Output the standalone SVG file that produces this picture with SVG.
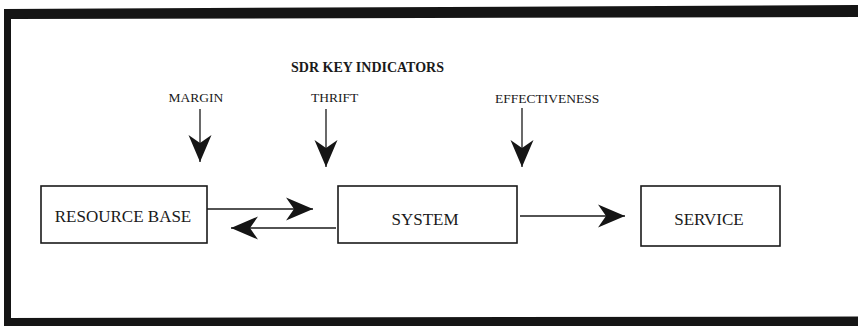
<svg xmlns="http://www.w3.org/2000/svg" width="858" height="326" viewBox="0 0 858 326">
  <style>
    .frame { fill: #151515; }
    .box { fill: #ffffff; stroke: #1a1a1a; stroke-width: 1.6; }
    text { font-family: "Liberation Serif", "DejaVu Serif", serif; fill: #1a1a1a; }
    .node { font-size: 17px; }
    .ind { font-size: 13.5px; }
    .title { font-size: 14px; font-weight: bold; }
    .link { stroke: #1a1a1a; stroke-width: 1.3; fill: none; marker-end: url(#dart); }
  </style>
  <defs>
    <marker id="dart" markerUnits="userSpaceOnUse" markerWidth="30" markerHeight="26" viewBox="-28 -13 30 26" refX="0" refY="0" orient="auto">
      <path d="M0,0 L-27,-11.5 L-19,0 L-27,11.5 Z" fill="#151515"/>
    </marker>
  </defs>

  <rect width="858" height="326" fill="#ffffff"/>

  <!-- heavy outer frame -->
  <g id="frame">
    <polygon class="frame" points="4,9 858,5 858,17 11,19"/>
    <rect class="frame" x="4" y="9" width="7" height="317"/>
    <polygon class="frame" points="4,318 858,316.5 858,326 4,326"/>
  </g>

  <g id="heading">
    <text class="title" x="291" y="72">SDR KEY INDICATORS</text>
  </g>

  <g id="resource-base">
    <rect class="box" x="41" y="186" width="166" height="57"/>
    <text class="node" x="123" y="222" text-anchor="middle">RESOURCE BASE</text>
  </g>
  <g id="system">
    <rect class="box" x="338" y="186" width="179" height="57"/>
    <text class="node" x="425" y="225" text-anchor="middle">SYSTEM</text>
  </g>
  <g id="service">
    <rect class="box" x="641" y="186" width="139" height="60"/>
    <text class="node" x="709" y="225" text-anchor="middle" font-size="17.5">SERVICE</text>
  </g>

  <g id="indicator-labels">
    <text class="ind" x="196" y="102" text-anchor="middle">MARGIN</text>
    <text class="ind" x="311" y="102">THRIFT</text>
    <text class="ind" x="495" y="103">EFFECTIVENESS</text>
  </g>

  <g id="connectors">
    <line class="link" x1="200" y1="109" x2="200" y2="162"/>
    <line class="link" x1="326" y1="109" x2="326" y2="167"/>
    <line class="link" x1="522" y1="108" x2="522" y2="167"/>
    <line class="link" x1="207" y1="209" x2="313" y2="209"/>
    <line class="link" x1="336" y1="228" x2="231" y2="228"/>
    <line class="link" x1="520" y1="216" x2="625" y2="216"/>
  </g>
</svg>
